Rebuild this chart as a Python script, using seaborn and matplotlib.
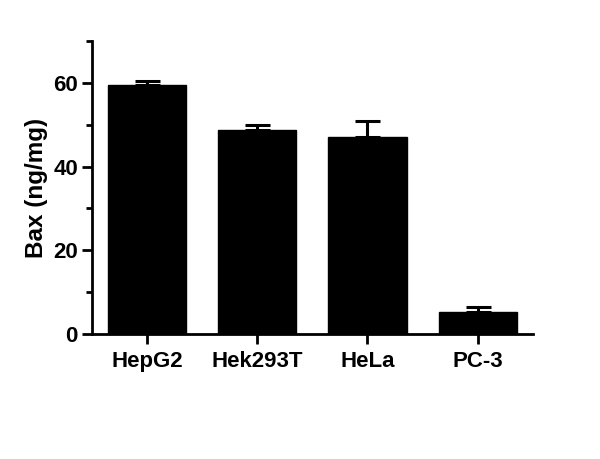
import matplotlib
matplotlib.use("Agg")
import matplotlib.pyplot as plt
import seaborn as sns
import pandas as pd
import numpy as np
from matplotlib.ticker import MultipleLocator

categories = ["HepG2", "Hek293T", "HeLa", "PC-3"]
values = [59.5, 48.8, 47.1, 5.3]
errors = [1.0, 1.1, 3.7, 1.2]

sns.set_theme(style="ticks")
plt.rcParams['font.family'] = ['Liberation Sans', 'DejaVu Sans']
plt.rcParams['font.weight'] = 'bold'

df = pd.DataFrame({"cell": categories, "bax": values})

fig = plt.figure(figsize=(6, 4.59), dpi=100)
ax = fig.add_axes([0.153, 0.272, 0.735, 0.639])

# error bars (upper only), drawn behind bars
ax.errorbar(np.arange(len(categories)), values,
            yerr=[np.zeros(len(errors)), errors],
            fmt="none", ecolor="black", elinewidth=2.2, capsize=9,
            capthick=2.2, zorder=1)
sns.barplot(data=df, x="cell", y="bax", color="black", width=0.71,
            errorbar=None, ax=ax, zorder=2, saturation=1)
for p in ax.patches:
    p.set_edgecolor("black")
    p.set_zorder(2)

ax.set_xlim(-0.5, 3.5)
ax.set_ylim(0, 70)
ax.yaxis.set_major_locator(MultipleLocator(20))
ax.yaxis.set_minor_locator(MultipleLocator(10))
ax.set_xlabel("")
ax.set_ylabel("Bax (ng/mg)", fontsize=17.5, fontweight="bold", color="black",
              labelpad=4)

for s in ["top", "right"]:
    ax.spines[s].set_visible(False)
for s in ["left", "bottom"]:
    ax.spines[s].set_linewidth(2.0)
    ax.spines[s].set_color("black")

ax.tick_params(axis="both", which="major", length=7, width=2.0,
               labelsize=16, color="black", labelcolor="black", pad=3)
ax.tick_params(axis="x", which="major", pad=5)
ax.tick_params(axis="y", which="minor", length=4, width=2.0, color="black")
for lab in ax.get_xticklabels() + ax.get_yticklabels():
    lab.set_fontweight("bold")

fig.savefig("out.png", dpi=100)
